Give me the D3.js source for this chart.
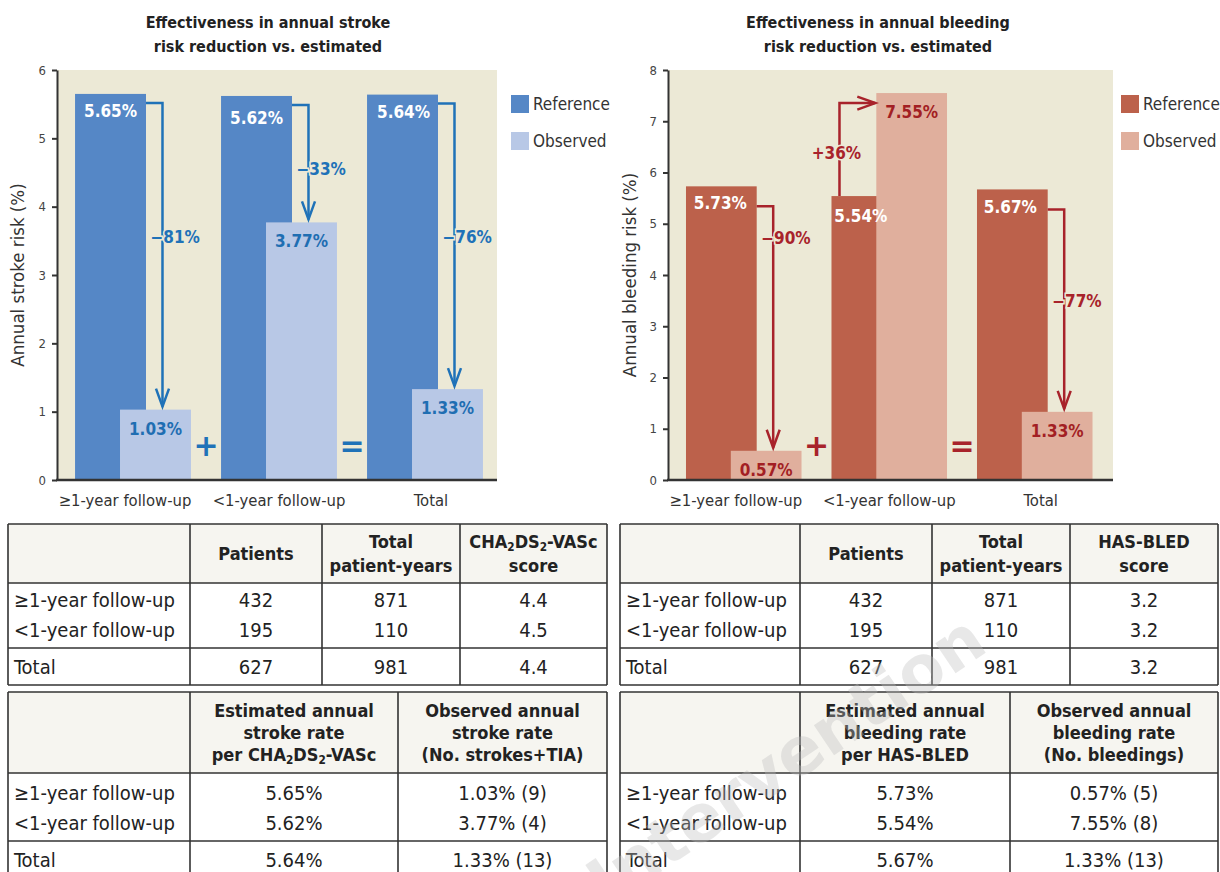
<!DOCTYPE html>
<html><head><meta charset="utf-8">
<script src="https://cdn.jsdelivr.net/npm/d3@7"></script>
<style>body{margin:0;background:#fff}svg{display:block}</style>
</head><body><svg id="c" width="1220" height="872"></svg>
<script>
// ---------- data ----------
const categories = ["≥1-year follow-up", "<1-year follow-up", "Total"];
const strokeReference = [5.65, 5.62, 5.64];
const strokeObserved = [1.03, 3.77, 1.33];
const strokeChange = ["−81%", "−33%", "−76%"];
const bleedReference = [5.73, 5.54, 5.67];
const bleedObserved = [0.57, 7.55, 1.33];
const bleedChange = ["−90%", "+36%", "−77%"];
const strokeTicks = [0, 1, 2, 3, 4, 5, 6];
const bleedTicks = [0, 1, 2, 3, 4, 5, 6, 7, 8];
const seriesNames = ["Reference", "Observed"];
const operators = ["+", "="];

const rowLabels = ["≥1-year follow-up", "<1-year follow-up", "Total"];
const patients = ["432", "195", "627"];
const patientYears = ["871", "110", "981"];
const chaScore = ["4.4", "4.5", "4.4"];
const hasBledScore = ["3.2", "3.2", "3.2"];
const strokeEstimated = ["5.65%", "5.62%", "5.64%"];
const strokeObservedText = ["1.03% (9)", "3.77% (4)", "1.33% (13)"];
const bleedEstimated = ["5.73%", "5.54%", "5.67%"];
const bleedObservedText = ["0.57% (5)", "7.55% (8)", "1.33% (13)"];

// ---------- style ----------
const COND = "'Liberation Sans Narrow','DejaVu Sans Condensed','Roboto Condensed','Arial Narrow',sans-serif";
const BG = "#ECE9D6";
const svg = d3.select("#c");
const xLabelShift = [-8, 0, 6];

function addRich(sel, str) {
  const parts = str.split(/(_\d)/);
  parts.forEach(p => {
    if (!p) return;
    if (p[0] === "_") sel.append("tspan").attr("baseline-shift", "-3").attr("font-size", "65%").text(p.slice(1));
    else sel.append("tspan").text(p);
  });
}

function drawChart(cfg) {
  const g = svg.append("g");
  const y = d3.scaleLinear().domain([0, cfg.max]).range([480, 70]);
  const x = d3.scaleBand().domain(categories).range(cfg.band);
  const step = x.step();
  const barW = step * 0.486;
  const refX = c => x(c) + step / 2 - 0.397 * step;
  const obsX = c => x(c) + step / 2 - 0.089 * step;

  g.append("rect").attr("x", cfg.axisX).attr("y", y(cfg.max)).attr("width", cfg.bgX1 - cfg.axisX)
    .attr("height", y(0) - y(cfg.max)).attr("fill", BG);

  cfg.title.forEach((t, i) => g.append("text").attr("x", cfg.titleX).attr("y", 28 + i * 24)
    .attr("text-anchor", "middle").attr("font-family", COND).attr("font-weight", "bold")
    .attr("font-size", 16).attr("fill", "#222").text(t));

  categories.forEach((c, i) => {
    g.append("rect").attr("x", refX(c)).attr("width", barW).attr("y", y(cfg.ref[i]))
      .attr("height", y(0) - y(cfg.ref[i])).attr("fill", cfg.refColor);
    g.append("rect").attr("x", obsX(c)).attr("width", barW).attr("y", y(cfg.obs[i]))
      .attr("height", y(0) - y(cfg.obs[i])).attr("fill", cfg.obsColor);
  });

  const ax = g.append("g").attr("transform", `translate(${cfg.axisX},0)`)
    .call(d3.axisLeft(y).tickValues(cfg.ticks).tickFormat(d3.format("d")).tickSize(5).tickSizeOuter(0).tickPadding(6));
  ax.select(".domain").attr("stroke", "#333").attr("stroke-width", 2);
  ax.selectAll(".tick line").attr("stroke", "#333").attr("stroke-width", 2);
  ax.selectAll(".tick text").attr("font-family", COND).attr("font-size", 13).attr("fill", "#444");
  g.append("line").attr("x1", cfg.axisX - 1).attr("x2", cfg.bgX1).attr("y1", y(0)).attr("y2", y(0))
    .attr("stroke", "#333").attr("stroke-width", 2.5);

  g.append("text").attr("transform", `translate(${cfg.yTitleX},${275}) rotate(-90)`)
    .attr("text-anchor", "middle").attr("font-family", COND).attr("font-size", 18.5).attr("fill", "#333")
    .text(cfg.yTitle);

  categories.forEach((c, i) => g.append("text").attr("x", x(c) + step / 2 + xLabelShift[i]).attr("y", 506)
    .attr("text-anchor", "middle").attr("font-family", COND).attr("font-size", 16.5).attr("fill", "#333").text(c));

  categories.forEach((c, i) => {
    const r = cfg.ref[i], o = cfg.obs[i];
    const path = g.append("path").attr("fill", "none").attr("stroke", cfg.arrowColor).attr("stroke-width", 2.5);
    const head = g.append("path").attr("fill", "none").attr("stroke", cfg.arrowColor).attr("stroke-width", 2.5);
    const lab = g.append("text").attr("dy", "0.36em").attr("font-family", COND)
      .attr("font-weight", "bold").attr("font-size", 17).attr("fill", cfg.arrowColor)
      .attr("stroke", BG).attr("stroke-width", 3).attr("paint-order", "stroke").text(cfg.change[i]);
    if (o < r) {
      const xs = refX(c) + barW, xl = xs + 16.5, y0 = y(r) + cfg.arrowDrop, tip = y(o) - 3;
      path.attr("d", `M${xs},${y0}H${xl}V${tip}`);
      head.attr("d", `M${xl - 6.5},${tip - 18}L${xl},${tip}L${xl + 6.5},${tip - 18}`);
      lab.attr("x", xl - 12).attr("y", y0 + (tip - y0) * cfg.labelFrac[i]);
    } else {
      const xl = refX(c) + 8, y0 = y(r), yt = y(o) + 10, tip = obsX(c) - 1;
      path.attr("d", `M${xl},${y0}V${yt}H${tip}`);
      head.attr("d", `M${tip - 18},${yt - 6.5}L${tip},${yt}L${tip - 18},${yt + 6.5}`);
      lab.attr("x", xl - 3).attr("y", y0 + (yt - y0) * cfg.labelFrac[i]).attr("text-anchor", "middle");
    }
  });

  categories.forEach((c, i) => {
    g.append("text").attr("x", refX(c) + barW / 2 + cfg.refLabelShift[i]).attr("y", y(cfg.ref[i]) + cfg.refLabelDrop[i])
      .attr("text-anchor", "middle").attr("font-family", COND).attr("font-weight", "bold")
      .attr("font-size", 17).attr("fill", "#fff").text(cfg.ref[i].toFixed(2) + "%");
    g.append("text").attr("x", obsX(c) + barW / 2).attr("y", y(cfg.obs[i]) + 25)
      .attr("text-anchor", "middle").attr("font-family", COND).attr("font-weight", "bold")
      .attr("font-size", 17).attr("fill", cfg.obsText).text(cfg.obs[i].toFixed(2) + "%");
  });

  operators.forEach((op, i) => g.append("text").attr("x", x(categories[i + 1])).attr("y", 445)
    .attr("dy", "0.36em").attr("text-anchor", "middle").attr("font-family", "'DejaVu Sans',sans-serif")
    .attr("font-weight", "bold").attr("font-size", 30).attr("fill", cfg.arrowColor).text(op));

  seriesNames.forEach((s, i) => {
    g.append("rect").attr("x", cfg.legendX).attr("y", 95 + i * 37).attr("width", 18).attr("height", 18)
      .attr("fill", i ? cfg.obsColor : cfg.refColor);
    g.append("text").attr("x", cfg.legendX + 22).attr("y", 104 + i * 37).attr("dy", "0.36em")
      .attr("font-family", COND).attr("font-size", 17).attr("fill", "#333").text(s);
  });
}

drawChart({
  ref: strokeReference, obs: strokeObserved, change: strokeChange, ticks: strokeTicks, max: 6,
  band: [60, 498], axisX: 57, bgX1: 497, titleX: 268, yTitleX: 24, legendX: 511,
  title: ["Effectiveness in annual stroke", "risk reduction vs. estimated"],
  yTitle: "Annual stroke risk (%)",
  refColor: "#5587C6", obsColor: "#B8C8E6", arrowColor: "#1F72B8", obsText: "#1F6EB2",
  arrowDrop: 9, labelFrac: [0.44, 0.56, 0.47], refLabelShift: [0, 0, 1], refLabelDrop: [23, 28, 23]
});
drawChart({
  ref: bleedReference, obs: bleedObserved, change: bleedChange, ticks: bleedTicks, max: 8,
  band: [671, 1107.5], axisX: 668, bgX1: 1113, titleX: 878, yTitleX: 636, legendX: 1121,
  title: ["Effectiveness in annual bleeding", "risk reduction vs. estimated"],
  yTitle: "Annual bleeding risk (%)",
  refColor: "#BC614B", obsColor: "#E0AF9D", arrowColor: "#A8232B", obsText: "#A31F24",
  arrowDrop: 20, labelFrac: [0.13, 0.46, 0.46], refLabelShift: [-1, -6, -2], refLabelDrop: [23, 26, 24]
});

// ---------- tables ----------
function drawTable(cfg) {
  const g = svg.append("g");
  const cols = cfg.cols, x0 = cols[0], x1 = cols[cols.length - 1];
  g.append("rect").attr("x", x0).attr("y", cfg.top).attr("width", x1 - x0).attr("height", cfg.head - cfg.top)
    .attr("fill", "#F6F5F0");
  const ls = "#333";
  [cfg.top, cfg.head, cfg.sep, cfg.bottom].forEach(yy => g.append("line").attr("x1", x0).attr("x2", x1)
    .attr("y1", yy).attr("y2", yy).attr("stroke", ls).attr("stroke-width", 1.6));
  cols.forEach(xx => g.append("line").attr("x1", xx).attr("x2", xx).attr("y1", cfg.top).attr("y2", cfg.bottom)
    .attr("stroke", ls).attr("stroke-width", 1.6));
  const mid = (cfg.top + cfg.head) / 2;
  cfg.headers.forEach((lines, j) => {
    const cx = (cols[j + 1] + cols[j + 2]) / 2;
    const gap = lines.length === 2 ? 24 : 22;
    lines.forEach((ln, k) => {
      const t = g.append("text").attr("x", cx).attr("y", mid + (k - (lines.length - 1) / 2) * gap)
        .attr("dy", "0.36em").attr("text-anchor", "middle").attr("font-family", COND)
        .attr("font-weight", "bold").attr("font-size", 18).attr("fill", "#222");
      addRich(t, ln);
    });
  });
  const rowY = [cfg.rows[0], cfg.rows[1], cfg.total];
  rowLabels.forEach((lab, r) => {
    g.append("text").attr("x", x0 + 6).attr("y", rowY[r]).attr("dy", "0.36em").attr("font-family", COND)
      .attr("font-size", 20).attr("fill", "#222").text(lab);
    cfg.data.forEach((col, j) => g.append("text").attr("x", (cols[j + 1] + cols[j + 2]) / 2).attr("y", rowY[r])
      .attr("dy", "0.36em").attr("text-anchor", "middle").attr("font-family", COND)
      .attr("font-size", 20).attr("fill", "#222").text(col[r]));
  });
}

drawTable({ cols: [8, 190, 322, 460, 607], top: 524, head: 583, rows: [600, 630], sep: 648, total: 667, bottom: 685,
  headers: [["Patients"], ["Total", "patient-years"], ["CHA_2DS_2-VASc", "score"]],
  data: [patients, patientYears, chaScore] });
drawTable({ cols: [620, 800, 932, 1070, 1218], top: 524, head: 583, rows: [600, 630], sep: 648, total: 667, bottom: 685,
  headers: [["Patients"], ["Total", "patient-years"], ["HAS-BLED", "score"]],
  data: [patients, patientYears, hasBledScore] });
drawTable({ cols: [8, 190, 398, 607], top: 692, head: 773, rows: [793, 823], sep: 841, total: 860, bottom: 880,
  headers: [["Estimated annual", "stroke rate", "per CHA_2DS_2-VASc"], ["Observed annual", "stroke rate", "(No. strokes+TIA)"]],
  data: [strokeEstimated, strokeObservedText] });
drawTable({ cols: [620, 800, 1010, 1218], top: 692, head: 773, rows: [793, 823], sep: 841, total: 860, bottom: 880,
  headers: [["Estimated annual", "bleeding rate", "per HAS-BLED"], ["Observed annual", "bleeding rate", "(No. bleedings)"]],
  data: [bleedEstimated, bleedObservedText] });

// watermark
svg.append("text").attr("transform", "translate(990,650) rotate(-34)").attr("text-anchor", "end")
  .attr("font-family", "'DejaVu Sans',sans-serif").attr("font-weight", "bold").attr("font-size", 66)
  .attr("fill", "#bdbdbd").attr("fill-opacity", 0.35).text("EuroIntervention");
</script></body></html>
